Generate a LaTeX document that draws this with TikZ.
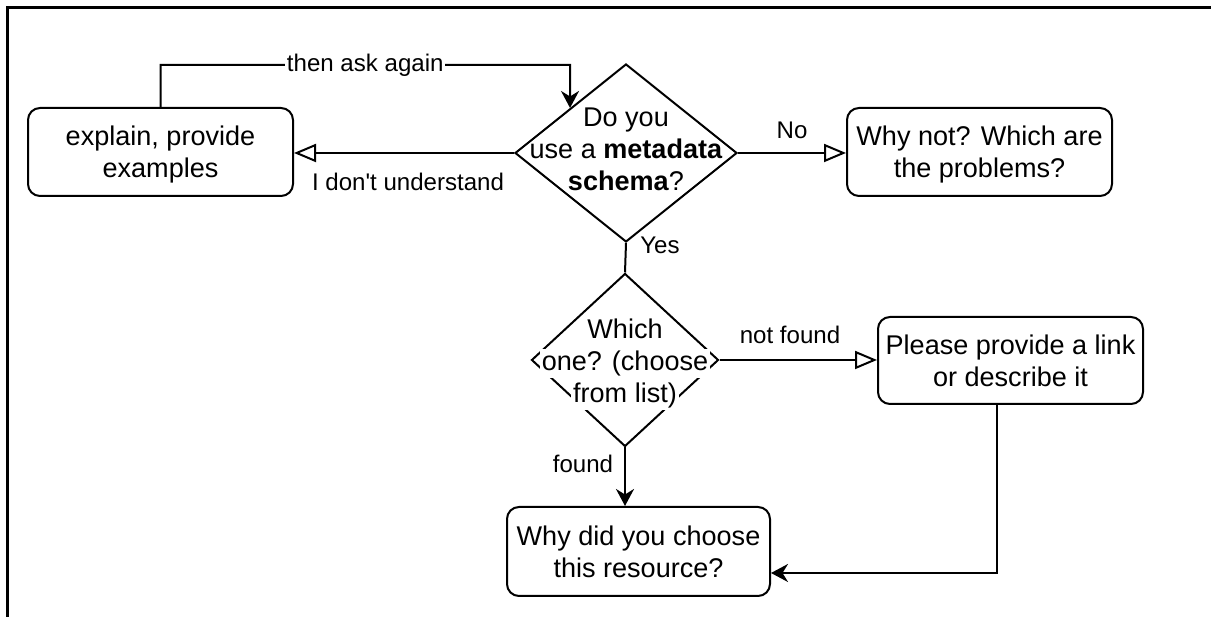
\documentclass[tikz,border=0pt]{standalone}
\usepackage{fontspec}
\setmainfont{Liberation Sans}
\usetikzlibrary{shapes.geometric,arrows.meta,calc}

\tikzset{
  box/.style={draw, rounded corners=2.4mm, line width=0.4mm, minimum width=53mm,
    minimum height=17.6mm, align=center, inner sep=0pt, text depth=0pt,
    font=\fontsize{15.4}{18.2}\selectfont},
  dia/.style={draw, diamond, line width=0.4mm, inner sep=0pt},
  dtxt/.style={align=center, inner sep=0pt,
    font=\fontsize{15.4}{18.2}\selectfont\setlength\fboxsep{1pt}\setlength\lineskiplimit{-10pt}},
  lbl/.style={inner sep=1pt, font=\fontsize{13.7}{16}\selectfont},
  link/.style={line width=0.4mm},
  opentip/.style={-{Triangle[open,length=4.4mm,width=3.6mm]}},
  filltip/.style={-{Stealth[length=3.4mm,width=3.6mm]}},
}

\begin{document}
\begin{tikzpicture}[x=2mm,y=2mm]
    \useasboundingbox (0,0) rectangle (121.1,61.7);
    \draw[line width=0.6mm] (0.7,0) -- (0.7,60.9) -- (121.1,60.9);

    \node[box] (expl) at (16.05,46.5) {explain, provide\\examples};
    \node[dia, minimum width=44.4mm, minimum height=35.6mm] (ask) at (62.6,46.4) {};
    \node[dtxt] (askt) at ($(ask)+(0,0.4)$) {Do you\\use a \textbf{metadata}\\\textbf{schema}?};
    \node[box] (whynot) at (97.95,46.5) {Why not? Which are\\the problems?};
    \node[dia, minimum width=37.4mm, minimum height=34.6mm] (which) at (62.5,25.7) {};
    \node[dtxt] (whicht) at ($(which)+(0,-0.35)$)
      {\colorbox{white}{Which}\\\colorbox{white}{one? (choose}\\\colorbox{white}{from list)}};
    \node[box, minimum height=17.4mm] (provide) at (101.05,25.65) {Please provide a link\\or describe it};
    \node[box, minimum width=52.6mm, minimum height=17.8mm] (why) at (63.85,6.55) {Why did you choose\\this resource?};

    \coordinate (turn) at (57,55.2);
    \coordinate (back) at ($(provide.south)+(-1.35,0)$);
    \coordinate (into) at ($(why.east)+(0,-2.15)$);

    \draw[link,filltip] (expl.north) |- node[lbl, fill=white, pos=0.75] (again) {then ask again} (turn)
        -- (intersection of turn--57,40 and ask.north--ask.west);
    \draw[link,opentip] (ask.west) -- (ask.west -| expl.east);
    \draw[link,opentip] (ask.east) -- (ask.east -| whynot.west);
    \draw[link] (ask.south) -- (which.north);
    \draw[link,opentip] (which.east) -- (which.east -| provide.west);
    \draw[link,filltip] (which.south) -- (which.south |- why.north);
    \draw[link,filltip] (back) |- (into);

    \node[lbl] (ldu) at (40.8,43.5) {I don\textquotesingle t understand};
    \node[lbl] (lno) at (79.2,48.7) {No};
    \node[lbl] (lyes) at (66.0,37.2) {Yes};
    \node[lbl] (lnf) at (79.0,28.2) {not found};
    \node[lbl] (lf) at (58.3,15.3) {found};
\end{tikzpicture}
\end{document}
